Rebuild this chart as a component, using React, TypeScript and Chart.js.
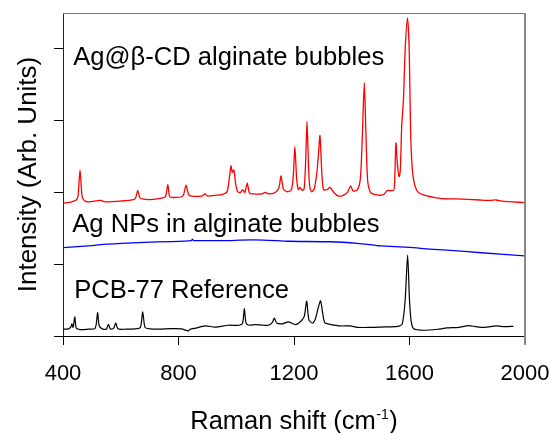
import React, { useEffect, useRef } from "react";
import { Chart, registerables } from "chart.js";

Chart.register(...registerables);

const FONT = '"Liberation Sans", Arial, Helvetica, sans-serif';

// ---- axis ----
const xMin = 400;
const xMax = 2000;
const xStep = 400;
const yMin = 0;
const yMax = 4.5;
const yStep = 1;

const xTitleMain = "Raman shift (cm";
const xTitleSup = "-1";
const xTitleEnd = ")";
const yTitle = "Intensity (Arb. Units)";

// ---- series labels (drawn as annotations) ----
const seriesLabels = ["Ag@β-CD alginate bubbles", "Ag NPs in alginate bubbles", "PCB-77 Reference"];
const labelShift = [435.5, 432, 439];
const labelIntensity = [3.78, 1.448, 0.527];

// ---- Ag@β-CD alginate bubbles (red) ----
const shiftAgCD = [
  400, 430, 445, 452, 459, 466, 475, 490, 530, 545, 600, 645, 652, 659, 666, 675, 700, 742, 755, 763,
  770, 790, 811, 818, 826, 835, 845, 880, 892, 900, 925, 950, 968, 976, 982, 986, 989, 992, 998, 1005,
  1015, 1022, 1030, 1038, 1046, 1060, 1090, 1100, 1112, 1135, 1148, 1155, 1163, 1175, 1190, 1197, 1203, 1209, 1215, 1221,
  1228, 1235, 1240, 1245, 1250, 1254, 1261, 1270, 1279, 1284, 1290, 1296, 1302, 1315, 1325, 1338, 1353, 1370, 1385, 1396,
  1405, 1420, 1430, 1437, 1443.5, 1449, 1455, 1465, 1486, 1510, 1523, 1545, 1549, 1553, 1558, 1564, 1568, 1573, 1579, 1585,
  1593, 1599, 1604, 1611, 1625, 1648, 1706, 1760, 1844, 1880, 1900, 1920, 2000,
];
const intensityAgCD = [
  1.85, 1.87, 1.89, 1.95, 2.31, 1.95, 1.88, 1.87, 1.89, 1.87, 1.88, 1.9, 1.93, 2.03, 1.93, 1.91, 1.9, 1.92, 1.94, 2.11,
  1.94, 1.93, 1.94, 1.97, 2.1, 1.97, 1.95, 1.95, 1.98, 1.95, 1.96, 1.97, 2.01, 2.2, 2.37, 2.28, 2.3, 2.31, 2.12, 2.01,
  2.0, 2.04, 2.0, 2.13, 1.99, 1.98, 1.98, 2.0, 1.98, 2.0, 2.07, 2.23, 2.05, 2.01, 2.03, 2.2, 2.64, 2.2, 2.04, 2.07,
  2.03, 2.05, 2.4, 2.99, 2.4, 2.1, 2.01, 2.05, 2.27, 2.5, 2.79, 2.3, 2.04, 2.04, 2.07, 2.0, 1.95, 1.96, 2.0, 2.09,
  2.02, 2.04, 2.2, 2.83, 3.53, 2.83, 2.17, 2.0, 1.965, 1.97, 2.025, 2.03, 2.2, 2.69, 2.4, 2.22, 2.3, 2.92, 3.29, 3.99,
  4.43, 3.99, 2.83, 2.27, 2.03, 1.965, 1.918, 1.91, 1.895, 1.89, 1.895, 1.88, 1.857,
];

// ---- Ag NPs in alginate bubbles (blue) ----
const shiftAgNP = [
  400, 450, 500, 551, 603, 680, 776, 845, 848, 852, 900, 978, 1013, 1094, 1180, 1325, 1420, 1486, 1500, 1600,
  1671, 1729, 1850, 2000,
];
const intensityAgNP = [
  1.23, 1.245, 1.26, 1.28, 1.29, 1.305, 1.315, 1.33, 1.35, 1.33, 1.33, 1.33, 1.337, 1.337, 1.32, 1.313, 1.29, 1.26, 1.257, 1.235,
  1.211, 1.197, 1.16, 1.117,
];

// ---- PCB-77 Reference (black) ----
const shiftPCB = [
  400, 420, 428, 431, 435, 441, 446, 460, 490, 510, 515, 520, 525, 535, 550, 557, 564, 575, 583, 590,
  620, 650, 668, 676, 684, 700, 730, 776, 810, 834, 840, 860, 892, 927, 972, 1010, 1022, 1028, 1034, 1045,
  1065, 1094, 1111, 1125, 1132, 1140, 1160, 1180, 1207, 1227, 1236, 1244, 1252, 1265, 1275, 1283, 1292, 1300, 1307, 1325,
  1360, 1394, 1420, 1470, 1500, 1560, 1575, 1585, 1593.5, 1600, 1606, 1615, 1648, 1700, 1729, 1770, 1804, 1830, 1860, 1900,
  1930, 1960,
];
const intensityPCB = [
  0.094, 0.1, 0.13, 0.17, 0.12, 0.265, 0.11, 0.09, 0.095, 0.1, 0.16, 0.327, 0.15, 0.1, 0.095, 0.163, 0.1, 0.105, 0.182, 0.1,
  0.095, 0.1, 0.12, 0.335, 0.12, 0.1, 0.095, 0.103, 0.1, 0.07, 0.094, 0.11, 0.14, 0.125, 0.15, 0.15, 0.18, 0.38, 0.18, 0.15,
  0.159, 0.15, 0.15, 0.19, 0.25, 0.18, 0.17, 0.196, 0.159, 0.219, 0.28, 0.485, 0.22, 0.18, 0.25, 0.38, 0.49, 0.3, 0.182, 0.163,
  0.14, 0.14, 0.12, 0.12, 0.125, 0.135, 0.17, 0.5, 1.127, 0.5, 0.2, 0.1, 0.08, 0.095, 0.112, 0.12, 0.145, 0.13, 0.12, 0.14,
  0.13, 0.135,
];

const toPoints = (xs: number[], ys: number[]) => xs.map((x, i) => ({ x, y: ys[i] }));

const decorPlugin = {
  id: "decor",
  afterDraw(chart: any) {
    const { ctx, chartArea, scales } = chart;
    const xs = scales.x;
    const ys = scales.y;
    ctx.save();
    // frame (top & right)
    ctx.strokeStyle = "#7a7a7a";
    ctx.lineWidth = 1;
    ctx.beginPath();
    ctx.moveTo(chartArea.left, Math.round(chartArea.top) + 0.5);
    ctx.lineTo(chartArea.right, Math.round(chartArea.top) + 0.5);
    ctx.stroke();
    ctx.lineWidth = 2;
    ctx.strokeStyle = "#888888";
    ctx.beginPath();
    ctx.moveTo(Math.round(chartArea.right), chartArea.top);
    ctx.lineTo(Math.round(chartArea.right), chartArea.bottom + 9);
    ctx.stroke();

    // series annotations
    ctx.fillStyle = "#000";
    ctx.font = `25.6px ${FONT}`;
    ctx.textAlign = "left";
    ctx.textBaseline = "alphabetic";
    seriesLabels.forEach((t, i) => {
      ctx.fillText(t, xs.getPixelForValue(labelShift[i]), ys.getPixelForValue(labelIntensity[i]));
    });

    // x-axis title with superscript
    const mainFont = `25.5px ${FONT}`;
    const supFont = `14px ${FONT}`;
    ctx.font = mainFont;
    const w1 = ctx.measureText(xTitleMain).width;
    const w3 = ctx.measureText(xTitleEnd).width;
    ctx.font = supFont;
    const w2 = ctx.measureText(xTitleSup).width;
    const total = w1 + w2 + w3 + 1;
    const cx = (chartArea.left + chartArea.right) / 2;
    let px = cx - total / 2;
    const base = 429;
    ctx.font = mainFont;
    ctx.fillText(xTitleMain, px, base);
    px += w1 + 0.5;
    ctx.font = supFont;
    ctx.fillText(xTitleSup, px, base - 10);
    px += w2 + 0.5;
    ctx.font = mainFont;
    ctx.fillText(xTitleEnd, px, base);
    ctx.restore();
  },
};

export default function App() {
  const canvasRef = useRef<HTMLCanvasElement | null>(null);

  useEffect(() => {
    const canvas = canvasRef.current;
    if (!canvas) return;
    const chart = new Chart(canvas, {
      type: "line",
      data: {
        datasets: [
          {
            label: seriesLabels[0],
            data: toPoints(shiftAgCD, intensityAgCD),
            borderColor: "#ff0000",
            borderWidth: 1.3,
            pointRadius: 0,
            tension: 0.25,
            fill: false,
          },
          {
            label: seriesLabels[1],
            data: toPoints(shiftAgNP, intensityAgNP),
            borderColor: "#0000ff",
            borderWidth: 1.3,
            pointRadius: 0,
            tension: 0.2,
            fill: false,
          },
          {
            label: seriesLabels[2],
            data: toPoints(shiftPCB, intensityPCB),
            borderColor: "#000000",
            borderWidth: 1.2,
            pointRadius: 0,
            tension: 0.25,
            fill: false,
          },
        ],
      },
      options: {
        responsive: false,
        animation: false,
        devicePixelRatio: 1,
        layout: { padding: { top: 13, right: 25, left: 0, bottom: 0 } },
        plugins: {
          legend: { display: false },
          tooltip: { enabled: false },
          title: { display: false },
        },
        scales: {
          x: {
            type: "linear",
            position: "bottom",
            min: xMin,
            max: xMax,
            afterFit: (s: any) => {
              s.height = 97;
              s.paddingLeft = 0;
              s.paddingRight = 0;
            },
            ticks: {
              stepSize: xStep,
              color: "#000",
              padding: 16,
              maxRotation: 0,
              font: { family: FONT, size: 22 },
              callback: (v: any) => String(v),
            },
            grid: {
              drawOnChartArea: false,
              drawTicks: true,
              tickLength: 9,
              color: "#000",
              lineWidth: 1,
            },
            border: { display: true, color: "#000", width: 1 },
            title: { display: false },
          },
          y: {
            type: "linear",
            min: yMin,
            max: yMax,
            afterFit: (s: any) => {
              s.width = 63;
              s.paddingTop = 0;
              s.paddingBottom = 0;
            },
            ticks: {
              stepSize: yStep,
              includeBounds: false,
              display: false,
            },
            grid: {
              drawOnChartArea: false,
              drawTicks: true,
              tickLength: 9,
              color: "#000",
              lineWidth: 1,
            },
            border: { display: true, color: "#222", width: 1 },
            title: {
              display: true,
              text: yTitle,
              color: "#000",
              font: { family: FONT, size: 26 },
              padding: { top: 13, bottom: 0 },
            },
          },
        },
      },
      plugins: [decorPlugin],
    } as any);
    return () => chart.destroy();
  }, []);

  return (
    <div style={{ position: "absolute", left: 0, top: 0, width: 550, height: 433, background: "#fff" }}>
      <canvas ref={canvasRef} width={550} height={433} style={{ width: 550, height: 433, display: "block" }} />
    </div>
  );
}
